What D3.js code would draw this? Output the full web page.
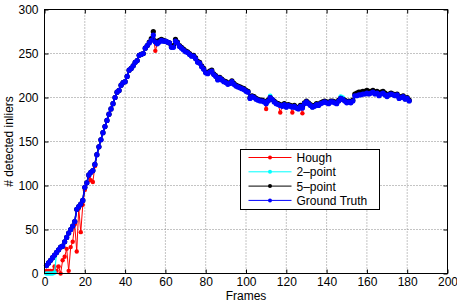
<!DOCTYPE html>
<html>
<head>
<meta charset="utf-8">
<script src="https://cdn.jsdelivr.net/npm/d3@7"></script>
<style>
  body { margin: 0; background: #fff; }
  text { font-family: "Liberation Sans", Arial, Helvetica, sans-serif; }
</style>
</head>
<body>
<svg width="457" height="302"></svg>
<script>
var xTicks = [0, 20, 40, 60, 80, 100, 120, 140, 160, 180, 200];
var yTicks = [0, 50, 100, 150, 200, 250, 300];
var seriesNames = ["Hough", "2\u2013point", "5\u2013point", "Ground Truth"];
var seriesColors = ["#ff0000", "#00ffff", "#000000", "#0000ff"];

// one value per frame, frames 1..181
var hough = [
  3,3,3,3,8,3,8,0,15,19, 28,3,30,36,56,25,74,47,78,95,
  103,110,106,104,122,135,144,152,160,167, 174,181,187,193,200,206,208,214,217,218,
  224,231,233,236,240,242,248,249,250,256, 259,262,265,271,253,261,263,265,264,264,
  263,262,257,257,264,262,258,256,254,252, 251,249,247,247,244,240,239,235,232,228,
  227,229,230,226,224,220,222,220,218,217, 215,216,218,215,213,212,211,210,209,207,
  206,199,201,200,198,197,196,196,195,187, 196,200,198,195,193,192,183,190,192,189,
  191,190,183,190,188,187,190,182,193,195, 193,191,189,190,192,191,193,194,195,194,
  193,195,195,194,193,196,199,198,196,194, 195,194,196,202,202,203,203,204,204,205,
  204,205,206,204,205,202,204,205,203,201, 203,204,203,202,203,199,200,201,198,199,
  196];
var twoPoint = [
  0,0,0,0,1,24,27,30,31,36, 41,46,50,54,59,73,76,79,83,98,
  103,112,115,117,124,135,144,152,160,167, 174,181,187,193,200,206,208,214,217,218,
  224,231,233,236,240,242,248,249,250,256, 259,262,265,271,263,261,263,265,264,264,
  263,262,257,257,264,262,258,256,254,252, 251,249,247,247,244,240,239,235,232,228,
  227,229,230,226,224,220,222,220,218,217, 215,216,218,215,213,212,211,210,209,207,
  206,199,201,200,198,197,196,196,195,193, 196,202,198,195,193,192,191,190,192,189,
  191,190,189,190,188,187,190,188,193,195, 193,191,189,190,192,191,193,194,195,194,
  193,195,195,194,193,196,201,200,196,194, 195,194,196,202,202,203,203,204,204,205,
  204,205,206,204,205,202,204,205,203,201, 203,204,203,202,203,199,200,201,198,199,
  196];
var fivePoint = [
  9,12,15,18,21,24,27,30,31,36, 41,46,50,54,59,73,76,79,83,98,
  103,112,115,117,124,135,144,152,160,167, 174,181,187,193,200,206,208,214,217,218,
  224,231,233,236,240,242,248,249,250,256, 259,263,267,275,264,262,265,266,265,264,
  263,262,258,259,266,263,259,257,255,253, 252,250,248,248,245,241,240,236,233,229,
  228,230,231,227,225,221,223,221,219,218, 216,217,219,216,214,213,212,211,210,208,
  207,200,202,201,199,198,197,197,196,194, 197,200,198,196,194,193,192,191,193,190,
  192,191,190,191,189,188,191,189,194,196, 194,192,190,191,193,192,194,195,196,195,
  194,196,196,195,194,197,199,198,197,195, 196,195,197,204,205,206,206,207,207,208,
  207,207,208,206,207,204,206,207,205,202, 204,205,204,203,204,200,201,202,199,200,
  197];
var groundTruth = [
  9,12,15,18,21,24,27,30,31,36, 41,46,50,54,59,73,76,79,83,98,
  103,112,115,117,124,135,144,152,160,167, 174,181,187,193,200,206,208,214,217,218,
  224,231,233,236,240,242,248,249,250,256, 259,262,265,271,263,261,263,265,264,264,
  263,262,257,257,264,262,258,256,254,252, 251,249,247,247,244,240,239,235,232,228,
  227,229,230,226,224,220,222,220,218,217, 215,216,218,215,213,212,211,210,209,207,
  206,199,201,200,198,197,196,196,195,193, 196,200,198,195,193,192,191,190,192,189,
  191,190,189,190,188,187,190,188,193,195, 193,191,189,190,192,191,193,194,195,194,
  193,195,195,194,193,196,199,198,196,194, 195,194,196,202,202,203,203,204,204,205,
  204,205,206,204,205,202,204,205,203,201, 203,204,203,202,203,199,200,201,198,199,
  196];

(function () {
  var allSeries = [hough, twoPoint, fivePoint, groundTruth];
  var lineWidths = [1, 1.2, 1.5, 1.6];
  var dotSizes = [2.2, 2.3, 2.6, 2.6];

  var svg = d3.select("svg");
  var pLeft = 44.5, pRight = 447.5, pTop = 9.5, pBottom = 273.5;

  var x = d3.scaleLinear().domain([0, 200]).range([pLeft, pRight]);
  var y = d3.scaleLinear().domain([0, 300]).range([pBottom, pTop]);

  // grid
  var grid = svg.append("g").attr("stroke", "#888").attr("stroke-dasharray", "1,2").attr("stroke-width", 1);
  grid.selectAll(".gx").data(xTicks.slice(1, -1)).enter().append("line")
    .attr("x1", d => x(d)).attr("x2", d => x(d)).attr("y1", pTop).attr("y2", pBottom);
  grid.selectAll(".gy").data(yTicks.slice(1, -1)).enter().append("line")
    .attr("y1", d => y(d)).attr("y2", d => y(d)).attr("x1", pLeft).attr("x2", pRight);

  // axes, MATLAB style ticks pointing inward
  svg.append("g").attr("transform", `translate(0,${pBottom})`)
    .call(d3.axisBottom(x).tickValues(xTicks).tickSizeInner(-4).tickSizeOuter(0).tickPadding(4));
  svg.append("g").attr("transform", `translate(0,${pTop})`)
    .call(d3.axisTop(x).tickValues(xTicks).tickSizeInner(-4).tickSizeOuter(0).tickFormat(""));
  svg.append("g").attr("transform", `translate(${pLeft},0)`)
    .call(d3.axisLeft(y).tickValues(yTicks).tickSizeInner(-4).tickSizeOuter(0).tickPadding(6));
  svg.append("g").attr("transform", `translate(${pRight},0)`)
    .call(d3.axisRight(y).tickValues(yTicks).tickSizeInner(-4).tickSizeOuter(0).tickFormat(""));

  svg.selectAll(".domain").remove();
  svg.selectAll(".tick line").attr("stroke", "#000");
  svg.selectAll(".tick text").attr("font-size", 12).attr("fill", "#000")
    .style("font-family", '"Liberation Sans", Arial, sans-serif');

  // series
  var line = d3.line().x((d, i) => x(i + 1)).y(d => y(d));
  allSeries.forEach(function (s, k) {
    var g = svg.append("g");
    g.append("path").datum(s)
      .attr("d", line).attr("fill", "none")
      .attr("stroke", seriesColors[k]).attr("stroke-width", lineWidths[k]);
    g.selectAll("circle").data(s).enter().append("circle")
      .attr("cx", (d, i) => x(i + 1)).attr("cy", d => y(d))
      .attr("r", dotSizes[k]).attr("fill", seriesColors[k]);
  });

  // box
  svg.append("rect").attr("x", pLeft).attr("y", pTop)
    .attr("width", pRight - pLeft).attr("height", pBottom - pTop)
    .attr("fill", "none").attr("stroke", "#000").attr("stroke-width", 1);

  // labels
  svg.append("text").attr("x", (pLeft + pRight) / 2).attr("y", 299.5)
    .attr("text-anchor", "middle").attr("font-size", 12).text("Frames");
  svg.append("text").attr("transform", `translate(13,${(pTop + pBottom) / 2}) rotate(-90)`)
    .attr("text-anchor", "middle").attr("font-size", 12).text("# detected inliers");

  // legend
  var lg = svg.append("g").attr("transform", "translate(240.5,149.5)");
  lg.append("rect").attr("width", 139).attr("height", 60)
    .attr("fill", "#fff").attr("stroke", "#000").attr("stroke-width", 1);
  var items = lg.selectAll(".item").data(seriesNames).enter().append("g")
    .attr("transform", (d, i) => `translate(0,${8 + i * 14.3})`);
  items.append("line").attr("x1", 8).attr("x2", 51)
    .attr("stroke", (d, i) => seriesColors[i]).attr("stroke-width", 1);
  items.append("circle").attr("cx", 29.5).attr("r", 2)
    .attr("fill", (d, i) => seriesColors[i]);
  items.append("text").attr("x", 56).attr("y", 4.5)
    .attr("font-size", 12).text(d => d);
})();
</script>
</body>
</html>
